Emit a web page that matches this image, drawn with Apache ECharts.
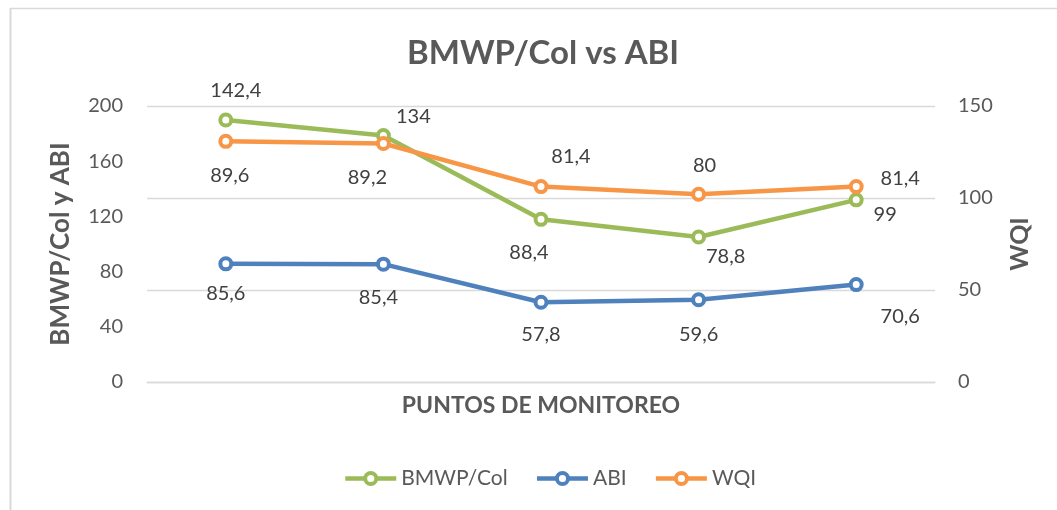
<!DOCTYPE html>
<html>
<head>
<meta charset="utf-8">
<title>BMWP/Col vs ABI</title>
<script src="https://cdn.jsdelivr.net/npm/echarts@6/dist/echarts.min.js"></script>
<style>
  html, body { margin: 0; padding: 0; background: #ffffff; }
  #chart { width: 1057px; height: 510px; }
</style>
</head>
<body>
<div id="chart"></div>
<script>
// Monitoring points (unlabelled on the axis)
const puntos = ['1', '2', '3', '4', '5'];

// Index values per monitoring point
const bmwpCol = [142.4, 134, 88.4, 78.8, 99];
const abi = [85.6, 85.4, 57.8, 59.6, 70.6];
const wqi = [89.6, 89.2, 81.4, 80, 81.4];

// Tick labels of the two value axes
const leftTicks = [0, 40, 80, 120, 160, 200];
const rightTicks = [0, 50, 100, 150];

// Where each data label sits relative to its marker [dx, dy]
const bmwpLabelShift = [[10, -29], [30, -19], [-12, 33], [27, 20], [29, 15]];
const abiLabelShift = [[0, 30], [-5, 33], [0, 32], [0, 35], [44, 32]];
const wqiLabelShift = [[4, 34], [-16, 34], [30, -30], [6, -29], [44, -8]];

const FONT = 'Lato, "Open Sans", sans-serif';
const TEXT = '#595959';
const GRID_LINE = '#d9d9d9';

const fmt = v => String(v).replace('.', ',');

function withLabels(values, shifts) {
  return values.map((v, i) => ({
    value: v,
    label: { offset: shifts[i] }
  }));
}

function lineSeries(name, color, values, shifts, axisIndex) {
  return {
    name: name,
    type: 'line',
    yAxisIndex: axisIndex,
    data: withLabels(values, shifts),
    symbol: 'circle',
    symbolSize: 11,
    lineStyle: { color: color, width: 4.5 },
    itemStyle: { color: '#ffffff', borderColor: color, borderWidth: 4 },
    label: {
      show: true,
      position: 'inside',
      formatter: p => fmt(p.value),
      fontFamily: FONT,
      fontSize: 20,
      color: '#404040'
    },
    emphasis: { disabled: true }
  };
}

const chart = echarts.init(document.getElementById('chart'), null, { renderer: 'canvas' });

chart.setOption({
  animation: false,
  backgroundColor: '#ffffff',
  title: {
    text: 'BMWP/Col vs ABI',
    left: 402,
    top: 32,
    textStyle: { fontFamily: FONT, fontSize: 33, fontWeight: 'bold', color: TEXT }
  },
  grid: { left: 147, right: 122, top: 106, bottom: 128 },
  legend: {
    data: ['BMWP/Col', 'ABI', 'WQI'],
    left: 338,
    top: 463,
    itemWidth: 51,
    itemHeight: 14,
    itemGap: 27,
    lineStyle: { width: 4.5 },
    itemStyle: { borderWidth: 4 },
    textStyle: { fontFamily: FONT, fontSize: 21, color: TEXT }
  },
  xAxis: {
    type: 'category',
    data: puntos,
    boundaryGap: true,
    name: 'PUNTOS DE MONITOREO',
    nameLocation: 'middle',
    nameGap: 12,
    nameTextStyle: { fontFamily: FONT, fontSize: 23, fontWeight: 'bold', color: TEXT },
    axisLine: { lineStyle: { color: GRID_LINE, width: 1.3 } },
    axisTick: { show: false },
    axisLabel: { show: false }
  },
  yAxis: [
    {
      type: 'value',
      position: 'left',
      min: leftTicks[0],
      max: leftTicks[leftTicks.length - 1],
      interval: leftTicks[1] - leftTicks[0],
      name: 'BMWP/Col y ABI',
      nameLocation: 'middle',
      nameGap: 73,
      nameTextStyle: { fontFamily: FONT, fontSize: 26, fontWeight: 'bold', color: TEXT },
      axisLine: { show: false },
      axisTick: { show: false },
      splitLine: { show: false },
      axisLabel: { margin: 24, fontFamily: FONT, fontSize: 20, color: TEXT }
    },
    {
      type: 'value',
      position: 'right',
      min: rightTicks[0],
      max: rightTicks[rightTicks.length - 1],
      interval: rightTicks[1] - rightTicks[0],
      name: 'WQI',
      nameLocation: 'middle',
      nameRotate: 90,
      nameGap: 72,
      nameTextStyle: { fontFamily: FONT, fontSize: 25, fontWeight: 'bold', color: TEXT },
      axisLine: { show: false },
      axisTick: { show: false },
      splitLine: { show: true, lineStyle: { color: GRID_LINE, width: 1.3 } },
      axisLabel: { margin: 23, fontFamily: FONT, fontSize: 20, color: TEXT }
    },
    {
      // scale that carries the WQI curve
      type: 'value',
      show: false,
      min: 46,
      max: 96,
      splitLine: { show: false }
    }
  ],
  graphic: [
    { type: 'line', silent: true, shape: { x1: 10, y1: 8.5, x2: 1057, y2: 8.5 }, style: { stroke: GRID_LINE, lineWidth: 1.5 } },
    { type: 'line', silent: true, shape: { x1: 10.5, y1: 8, x2: 10.5, y2: 510 }, style: { stroke: GRID_LINE, lineWidth: 2 } }
  ],
  series: [
    lineSeries('BMWP/Col', '#9BBB59', bmwpCol, bmwpLabelShift, 1),
    lineSeries('ABI', '#4F81BD', abi, abiLabelShift, 0),
    lineSeries('WQI', '#F79646', wqi, wqiLabelShift, 2)
  ]
});
</script>
</body>
</html>
